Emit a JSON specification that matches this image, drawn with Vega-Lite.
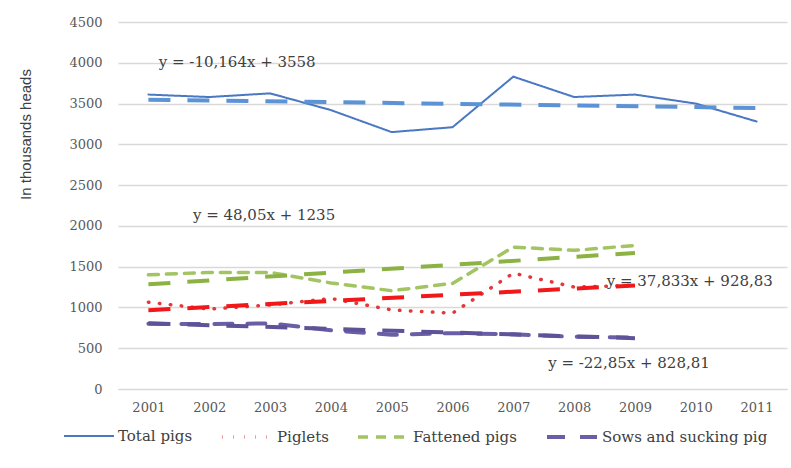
{
  "$schema": "https://vega.github.io/schema/vega-lite/v6.json",
  "width": 669,
  "height": 367,
  "autosize": {"type": "none"},
  "padding": {"left": 118, "top": 22, "right": 4, "bottom": 79},
  "background": "white",
  "config": {
    "view": {"stroke": null},
    "font": "DejaVu Serif"
  },
  "datasets": {
    "series": [
      {"year": "2001", "series": "Total pigs", "value": 3610},
      {"year": "2002", "series": "Total pigs", "value": 3580},
      {"year": "2003", "series": "Total pigs", "value": 3625},
      {"year": "2004", "series": "Total pigs", "value": 3420},
      {"year": "2005", "series": "Total pigs", "value": 3150},
      {"year": "2006", "series": "Total pigs", "value": 3210},
      {"year": "2007", "series": "Total pigs", "value": 3830},
      {"year": "2008", "series": "Total pigs", "value": 3580},
      {"year": "2009", "series": "Total pigs", "value": 3610},
      {"year": "2010", "series": "Total pigs", "value": 3500},
      {"year": "2011", "series": "Total pigs", "value": 3280},
      {"year": "2001", "series": "Piglets", "value": 1065},
      {"year": "2002", "series": "Piglets", "value": 980},
      {"year": "2003", "series": "Piglets", "value": 1030},
      {"year": "2004", "series": "Piglets", "value": 1110},
      {"year": "2005", "series": "Piglets", "value": 970},
      {"year": "2006", "series": "Piglets", "value": 930},
      {"year": "2007", "series": "Piglets", "value": 1420},
      {"year": "2008", "series": "Piglets", "value": 1250},
      {"year": "2009", "series": "Piglets", "value": 1270},
      {"year": "2001", "series": "Fattened pigs", "value": 1400},
      {"year": "2002", "series": "Fattened pigs", "value": 1430},
      {"year": "2003", "series": "Fattened pigs", "value": 1430},
      {"year": "2004", "series": "Fattened pigs", "value": 1300},
      {"year": "2005", "series": "Fattened pigs", "value": 1205},
      {"year": "2006", "series": "Fattened pigs", "value": 1295},
      {"year": "2007", "series": "Fattened pigs", "value": 1740},
      {"year": "2008", "series": "Fattened pigs", "value": 1700},
      {"year": "2009", "series": "Fattened pigs", "value": 1760},
      {"year": "2001", "series": "Sows and sucking pig", "value": 800},
      {"year": "2002", "series": "Sows and sucking pig", "value": 795},
      {"year": "2003", "series": "Sows and sucking pig", "value": 805},
      {"year": "2004", "series": "Sows and sucking pig", "value": 720},
      {"year": "2005", "series": "Sows and sucking pig", "value": 665},
      {"year": "2006", "series": "Sows and sucking pig", "value": 685},
      {"year": "2007", "series": "Sows and sucking pig", "value": 670},
      {"year": "2008", "series": "Sows and sucking pig", "value": 640},
      {"year": "2009", "series": "Sows and sucking pig", "value": 630}
    ],
    "trend": [
      {"year": "2001", "series": "Total pigs", "value": 3547.8},
      {"year": "2011", "series": "Total pigs", "value": 3446.2},
      {"year": "2001", "series": "Piglets", "value": 966.7},
      {"year": "2009", "series": "Piglets", "value": 1269.3},
      {"year": "2001", "series": "Fattened pigs", "value": 1283.1},
      {"year": "2009", "series": "Fattened pigs", "value": 1667.5},
      {"year": "2001", "series": "Sows and sucking pig", "value": 806.0},
      {"year": "2009", "series": "Sows and sucking pig", "value": 623.2}
    ],
    "eq1": [
      {"year": "2002", "value": 4015, "label": "y = -10,164x + 3558"}
    ],
    "eq2": [
      {"year": "2003", "value": 2130, "label": "y = 48,05x + 1235"},
      {"year": "2010", "value": 1322, "label": "y = 37,833x + 928,83"},
      {"year": "2009", "value": 318, "label": "y = -22,85x + 828,81"}
    ]
  },
  "encoding": {
    "x": {
      "field": "year",
      "type": "ordinal",
      "scale": {"type": "point", "padding": 0.5, "domain": ["2001","2002","2003","2004","2005","2006","2007","2008","2009","2010","2011"]},
      "axis": {
        "title": null,
        "labelAngle": 0,
        "labelFont": "DejaVu Serif",
        "labelFontSize": 13,
        "labelColor": "#595959",
        "labelPadding": 12,
        "ticks": false,
        "domain": true,
        "domainColor": "#D9D9D9",
        "grid": false
      }
    },
    "y": {
      "field": "value",
      "type": "quantitative",
      "scale": {"domain": [0, 4500], "nice": false},
      "axis": {
        "title": "In thousands heads",
        "titleFont": "Liberation Sans",
        "titleFontSize": 15,
        "titleFontWeight": "normal",
        "titleColor": "#404040",
        "titleX": -85,
        "titleY": 112,
        "format": "d",
        "values": [0, 500, 1000, 1500, 2000, 2500, 3000, 3500, 4000, 4500],
        "labelFont": "DejaVu Serif",
        "labelFontSize": 13,
        "labelColor": "#595959",
        "labelPadding": 16,
        "ticks": false,
        "domain": false,
        "grid": true,
        "gridColor": "#D9D9D9",
        "gridWidth": 1.3
      }
    }
  },
  "layer": [
    {
      "data": {"name": "eq2"},
      "mark": {"type": "text", "font": "DejaVu Serif", "fontSize": 15, "color": "#404040", "align": "center", "baseline": "middle", "dx": -6},
      "encoding": {"text": {"field": "label"}}
    },
    {
      "data": {"name": "series"},
      "mark": {"type": "line", "strokeCap": "round"},
      "encoding": {
        "color": {
          "field": "series",
          "type": "nominal",
          "scale": {
            "domain": ["Total pigs", "Piglets", "Fattened pigs", "Sows and sucking pig"],
            "range": ["#4A78C2", "#E2383A", "#A3C462", "#6A5FA6"]
          },
          "legend": {
            "title": null,
            "orient": "none",
            "legendX": -55,
            "legendY": 388,
            "direction": "horizontal",
            "gridAlign": "none",
            "symbolType": "stroke",
            "symbolSize": 2500,
            "symbolStrokeWidth": 3,
            "labelFont": "DejaVu Serif",
            "labelFontSize": 15,
            "labelColor": "#404040",
            "labelOffset": 3,
            "labelLimit": 300,
            "columnPadding": 22
          }
        },
        "strokeDash": {
          "field": "series",
          "type": "nominal",
          "scale": {
            "domain": ["Total pigs", "Piglets", "Fattened pigs", "Sows and sucking pig"],
            "range": [[1, 0], [0.5, 10.5], [10, 8], [18, 15]]
          },
          "legend": {
            "title": null,
            "orient": "none",
            "legendX": -55,
            "legendY": 388,
            "direction": "horizontal",
            "gridAlign": "none",
            "symbolType": "stroke",
            "symbolSize": 2500,
            "symbolStrokeWidth": 3,
            "labelFont": "DejaVu Serif",
            "labelFontSize": 15,
            "labelColor": "#404040",
            "labelOffset": 3,
            "labelLimit": 300,
            "columnPadding": 22
          }
        },
        "strokeWidth": {
          "field": "series",
          "type": "nominal",
          "scale": {
            "type": "ordinal",
            "domain": ["Total pigs", "Piglets", "Fattened pigs", "Sows and sucking pig"],
            "range": [2, 3.5, 3.5, 4]
          },
          "legend": null
        }
      }
    },
    {
      "data": {"name": "trend"},
      "mark": {"type": "line", "strokeWidth": 4, "strokeDash": [22, 17]},
      "encoding": {
        "color": {
          "field": "series",
          "type": "nominal",
          "scale": {
            "domain": ["Total pigs", "Piglets", "Fattened pigs", "Sows and sucking pig"],
            "range": ["#5B93D6", "#F01818", "#8CB244", "#5E5299"]
          },
          "legend": null
        },
        "detail": {"field": "series"}
      }
    },
    {
      "data": {"name": "eq1"},
      "mark": {"type": "text", "font": "DejaVu Serif", "fontSize": 15, "color": "#404040", "align": "center", "baseline": "middle", "dx": 28},
      "encoding": {"text": {"field": "label"}}
    }
  ],
  "resolve": {"scale": {"color": "independent", "strokeDash": "independent", "strokeWidth": "independent"}}
}
